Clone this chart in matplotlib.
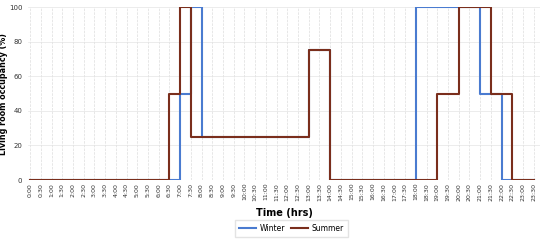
import numpy as np
import matplotlib.pyplot as plt

# half-hour slots 0:00 .. 23:30
times = ["%d:%02d" % (h, m) for h in range(24) for m in (0, 30)]

winter = [0]*14 + [50, 100] + [25]*10 + [75, 75] + [0]*8 + [100]*6 + [50, 50] + [0]*4
summer = [0]*13 + [50, 100] + [25]*11 + [75, 75] + [0]*10 + [50, 50] + [100]*3 + [50, 50] + [0]*3

x = np.arange(len(times))

fig = plt.figure(figsize=(5.5, 2.42), dpi=100)
ax = fig.add_axes([0.051, 0.256, 0.931, 0.715])

ax.plot(x, winter, drawstyle='steps-post', color='#4a7bd0', lw=1.5, label='Winter')
ax.plot(x, summer, drawstyle='steps-post', color='#7a2e1c', lw=1.5, label='Summer')

ax.set_xlim(-0.2, 47.6)
ax.set_ylim(0, 100)
ax.set_xticks(x)
ax.set_xticklabels(times, rotation=90, fontsize=4.5, color='#333333')
ax.set_yticks([0, 20, 40, 60, 80, 100])
ax.tick_params(axis='y', labelsize=5, colors='#333333', length=0, pad=4)
ax.tick_params(axis='x', length=0, pad=2)

ax.grid(axis='x', color='#dddddd', ls='--', lw=0.5)
ax.grid(axis='y', color='#e4e4e4', ls='-', lw=0.5)
for s in ax.spines.values():
    s.set_visible(False)

ax.set_xlabel('Time (hrs)', fontsize=7, fontweight='bold', labelpad=5)
ax.set_ylabel('Living room occupancy (%)', fontsize=5.8, fontweight='bold')
ax.yaxis.set_label_coords(-0.039, 0.5)

fig.legend(loc='lower center', bbox_to_anchor=(0.53, 0.005), ncol=2, fontsize=5.5,
           frameon=True, edgecolor='#dddddd', fancybox=False, handlelength=2.2,
           columnspacing=0.8, handletextpad=0.5, borderpad=0.5)

fig.savefig('out.png', dpi=100)
